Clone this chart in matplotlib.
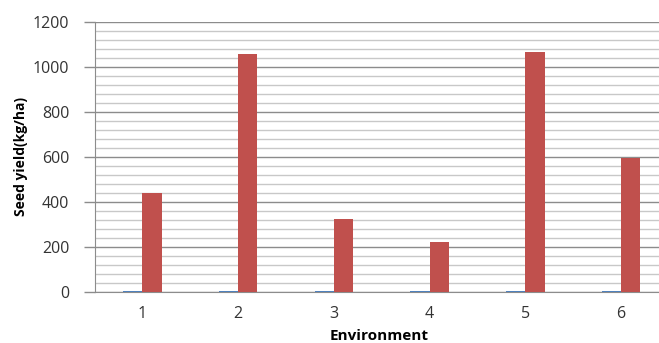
import matplotlib
matplotlib.use("Agg")
import matplotlib.pyplot as plt
import numpy as np
from matplotlib.ticker import MultipleLocator

categories = ["1", "2", "3", "4", "5", "6"]
series_small = [3, 3, 3, 3, 3, 3]
series_yield = [438, 1055, 322, 219, 1066, 594]

plt.rcParams['font.family'] = ['Open Sans', 'DejaVu Sans']

fig = plt.figure(figsize=(6.59, 3.43), dpi=100)
W, H = 659, 343
left, right, top, bottom = 94.5, 669, 21.7, 291.7
ax = fig.add_axes([left / W, 1 - bottom / H, (right - left) / W, (bottom - top) / H])

x = np.arange(len(categories))
bw = 0.2
ax.bar(x - bw / 2, series_small, width=bw, color="#4f81bd", zorder=3)
ax.bar(x + bw / 2, series_yield, width=bw, color="#c0504d", zorder=3)

ax.set_xlim(-0.5, len(categories) - 0.5)
ax.set_ylim(0, 1200)
ax.yaxis.set_major_locator(MultipleLocator(200))
ax.yaxis.set_minor_locator(MultipleLocator(40))
ax.grid(which='major', axis='y', color='#8c8c8c', linewidth=1.0, zorder=0)
ax.grid(which='minor', axis='y', color='#c8c8c8', linewidth=1.0, zorder=0)
ax.set_axisbelow(True)

ax.set_xticks(x)
ax.set_xticklabels(categories)
ax.tick_params(axis='x', length=0, pad=10, labelsize=11.5, colors='#333333')
ax.tick_params(axis='y', which='major', length=8, width=1, color='#8c8c8c', labelsize=11.5,
               labelcolor='#333333', pad=10)
ax.tick_params(axis='y', which='minor', length=0)

for s in ['top', 'right']:
    ax.spines[s].set_visible(False)
ax.spines['left'].set_color('#8c8c8c')
ax.spines['bottom'].set_color('#8c8c8c')

fig.text(21 / W, 1 - 157 / H, "Seed yield(kg/ha)", fontweight='bold', fontsize=10,
         rotation=90, ha='center', va='center')
fig.text(379 / W, 1 - 336 / H, "Environment", fontweight='bold', fontsize=11,
         ha='center', va='center')

fig.savefig("out.png", dpi=100)
